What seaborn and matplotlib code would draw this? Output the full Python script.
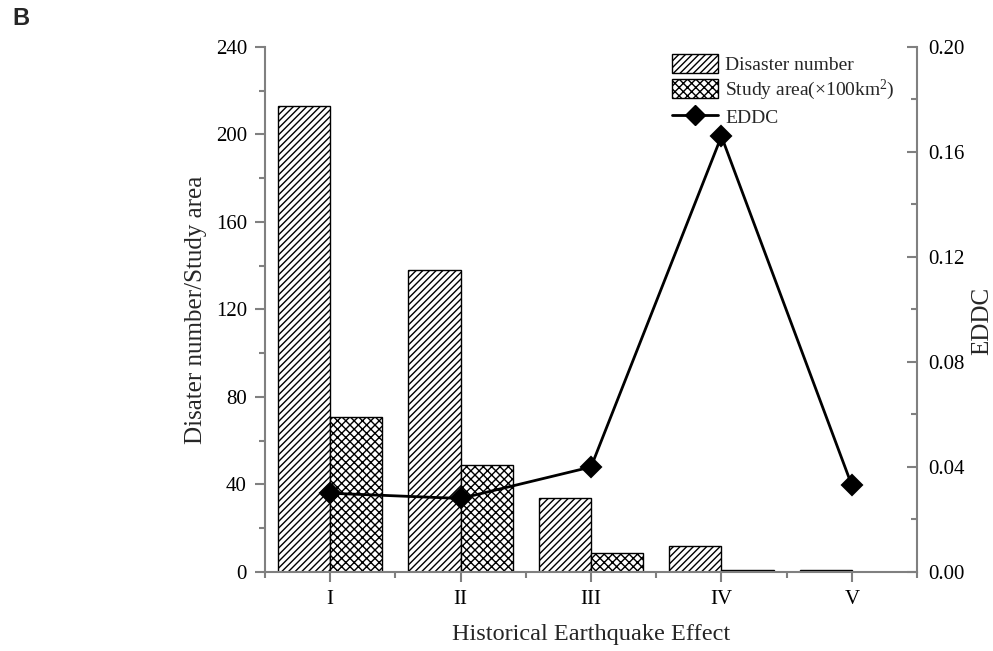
import matplotlib
matplotlib.use("Agg")
import matplotlib.pyplot as plt
import seaborn as sns
import pandas as pd
from matplotlib.ticker import MultipleLocator, FormatStrFormatter
from matplotlib.patches import Patch
from matplotlib.lines import Line2D

levels = ["I", "II", "III", "IV", "V"]
disaster_number = [213, 138, 34, 12, 1]
study_area = [71, 49, 8.5, 0.8, 0.1]
eddc = [0.030, 0.028, 0.040, 0.166, 0.033]

series_names = ["Disaster number", "Study area(×100km$^{2}$)"]

df = pd.DataFrame({
    "level": levels * 2,
    "value": disaster_number + study_area,
    "series": [series_names[0]] * len(levels) + [series_names[1]] * len(levels),
})
df_line = pd.DataFrame({"level": levels, "EDDC": eddc})

sns.set_theme(style="ticks")
plt.rcParams["font.family"] = ["Liberation Serif", "DejaVu Serif"]
plt.rcParams["mathtext.default"] = "regular"
plt.rcParams["hatch.linewidth"] = 1.0

spine_c = "#808080"

fig = plt.figure(figsize=(9.93, 6.51), dpi=100)
ax = fig.add_axes([0.2669, 0.1214, 0.9235 - 0.2669, 0.9278 - 0.1214])

sns.barplot(data=df, x="level", y="value", hue="series", order=levels,
            hue_order=series_names, palette=["white", "white"],
            edgecolor="black", linewidth=1.0, width=0.8, saturation=1,
            ax=ax, legend=False)

hatches = ["/////", "xxxx"]
for cont, h in zip(ax.containers, hatches):
    for p in cont.patches:
        p.set_hatch(h)
        p.set_edgecolor("black")

ax.set_xlim(-0.5, 4.5)
ax.set_ylim(0, 240)
ax.yaxis.set_major_locator(MultipleLocator(40))
ax.yaxis.set_minor_locator(MultipleLocator(20))
ax.set_xticks(range(len(levels)))
ax.set_xticklabels(levels)
ax.set_xticks([i + 0.5 for i in range(-1, len(levels))], minor=True)

ax2 = ax.twinx()
sns.pointplot(data=df_line, x="level", y="EDDC", order=levels, color="black",
              markers="D", linestyles="-", ax=ax2, markersize=10, linewidth=2)
ax2.set_xlim(-0.5, 4.5)
ax2.set_ylim(0, 0.20)
ax2.yaxis.set_major_locator(MultipleLocator(0.04))
ax2.yaxis.set_minor_locator(MultipleLocator(0.02))
ax2.yaxis.set_major_formatter(FormatStrFormatter("%.2f"))

for a in (ax, ax2):
    a.spines["top"].set_visible(False)
    for s in a.spines.values():
        s.set_color(spine_c)
        s.set_linewidth(1.5)
    a.tick_params(which="major", length=7, width=1.5, color=spine_c,
                  labelsize=15, labelcolor="black")
    a.tick_params(which="minor", length=4, width=1.5, color=spine_c)

ax.spines["right"].set_visible(False)
ax2.spines["left"].set_visible(False)
ax2.spines["bottom"].set_visible(False)
ax.tick_params(axis="y", which="both", direction="out", pad=6)
ax.tick_params(axis="x", which="both", direction="out", pad=6)
ax2.tick_params(axis="y", which="both", direction="in", pad=8)

ax.set_xlabel("Historical Earthquake Effect", fontsize=17.5, labelpad=11)
ax.set_ylabel("Disater number/Study area", fontsize=18, labelpad=6)
ax2.set_ylabel("EDDC", fontsize=18)
ax2.yaxis.set_label_coords(1.0997, 0.478)
ax2.yaxis.label.set_horizontalalignment("center")
ax2.yaxis.label.set_verticalalignment("center")
ax2.yaxis.label.set_rotation_mode("anchor")

leg_handles = [
    Patch(facecolor="white", edgecolor="black", hatch=hatches[0], linewidth=1.0),
    Patch(facecolor="white", edgecolor="black", hatch=hatches[1], linewidth=1.0),
    Line2D([], [], color="black", marker="D", markersize=10, linewidth=2),
]
ax2.legend(leg_handles, series_names + ["EDDC"], loc="upper right",
           bbox_to_anchor=(0.984, 1.0095), frameon=False, fontsize=14,
           handlelength=2.37, handleheight=1.13, handletextpad=0.36,
           labelspacing=0.22, borderaxespad=0.2)

fig.text(0.012, 0.99, "B", fontsize=17, fontweight="bold",
         family=["Liberation Sans", "DejaVu Sans"], va="top")

fig.savefig("out.png", dpi=100)
